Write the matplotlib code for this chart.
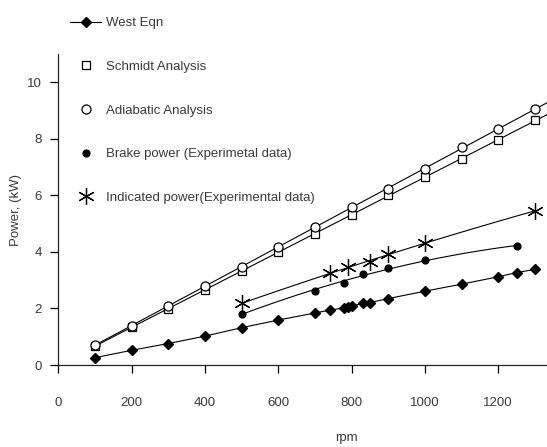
import numpy as np
import matplotlib.pyplot as plt

plt.rcParams['font.family'] = ['Liberation Sans', 'DejaVu Sans']

# datos
rpm_west = [100, 200, 300, 400, 500, 600, 700, 740, 780, 790, 800, 830, 850,
            900, 1000, 1100, 1200, 1250, 1300]
p_west = [0.26, 0.52, 0.76, 1.02, 1.32, 1.59, 1.84, 1.94, 2.02, 2.06, 2.09,
          2.18, 2.21, 2.35, 2.61, 2.86, 3.12, 3.27, 3.38]

rpm_model = [100, 200, 300, 400, 500, 600, 700, 800, 900, 1000, 1100, 1200, 1300]
p_schmidt = [0.67, 1.33, 1.99, 2.67, 3.33, 3.98, 4.65, 5.31, 6.0, 6.65, 7.28, 7.95, 8.66]
p_adiabatic = [0.71, 1.39, 2.08, 2.79, 3.47, 4.18, 4.88, 5.59, 6.24, 6.94, 7.71, 8.33, 9.04]

rpm_brake = [500, 700, 780, 830, 900, 1000, 1250]
p_brake = [1.82, 2.62, 2.89, 3.22, 3.44, 3.70, 4.21]

rpm_ind = [500, 740, 790, 850, 900, 1000, 1300]
p_ind = [2.18, 3.24, 3.46, 3.65, 3.92, 4.32, 5.45]

txt = '#3a3a3a'
fs = 9.5

fig = plt.figure(figsize=(5.47, 4.47), dpi=100)
ax = fig.add_axes([58.3/547, 82/447, 1 - 58.3/547, 311/447])

# West Eqn
ax.plot(rpm_west, p_west, color='black', lw=0.8, marker='D', ms=5.5,
        mfc='black', mec='black', label='West Eqn')

# Schmidt / adiabatico: rectas ajustadas + marcadores
xx = np.linspace(100, 1340, 50)
for y, mk, ms, lab in [(p_schmidt, 's', 6, 'Schmidt Analysis'),
                       (p_adiabatic, 'o', 6.5, 'Adiabatic Analysis')]:
    c = np.polyfit(rpm_model, y, 1)
    ax.plot(xx, np.polyval(c, xx), color='black', lw=0.8)
    ax.plot(rpm_model, y, ls='none', marker=mk, ms=ms, mfc='white',
            mec='black', mew=0.9, label=lab)

# datos experimentales con curva de tendencia
for xs, ys, mk, ms, lab in [(rpm_brake, p_brake, 'o', 5, 'Brake power (Experimetal data)'),
                            (rpm_ind, p_ind, (6, 2, 0), 12, 'Indicated power(Experimental data)')]:
    c = np.polyfit(xs, ys, 2)
    xf = np.linspace(xs[0], xs[-1], 100)
    ax.plot(xf, np.polyval(c, xf), color='black', lw=0.8)
    ax.plot(xs, ys, ls='none', marker=mk, ms=ms, color='black', mew=0.9, label=lab)

ax.set_xlim(0, 1333)
ax.set_ylim(0, 11)
ax.set_xticks(range(0, 1400, 200))
ax.set_yticks(range(0, 11, 2))
ax.spines['top'].set_visible(False)
ax.spines['right'].set_visible(False)
for s in ['left', 'bottom']:
    ax.spines[s].set_color('#222222')
    ax.spines[s].set_linewidth(0.9)
ax.tick_params(axis='x', direction='out', length=6, width=0.9, pad=17,
               labelsize=fs, labelcolor=txt)
ax.tick_params(axis='y', direction='out', length=6, width=0.9, pad=6,
               labelsize=fs, labelcolor=txt)

ax.set_xlabel('rpm', fontsize=fs, color=txt)
ax.xaxis.set_label_coords(0.59, -0.215)
ax.set_ylabel('Power, (kW)', fontsize=fs, color=txt)
ax.yaxis.set_label_coords(-0.075, 0.5)

handles, labels = ax.get_legend_handles_labels()
leg = ax.legend(handles, labels, loc='upper left', frameon=False,
                bbox_to_anchor=(70/547, 1 - 17/447), bbox_transform=fig.transFigure,
                borderpad=0, borderaxespad=0, fontsize=fs, labelspacing=2.38,
                handlelength=2.35, handletextpad=0.4)
for t in leg.get_texts():
    t.set_color(txt)

fig.savefig('out.png', dpi=100)
